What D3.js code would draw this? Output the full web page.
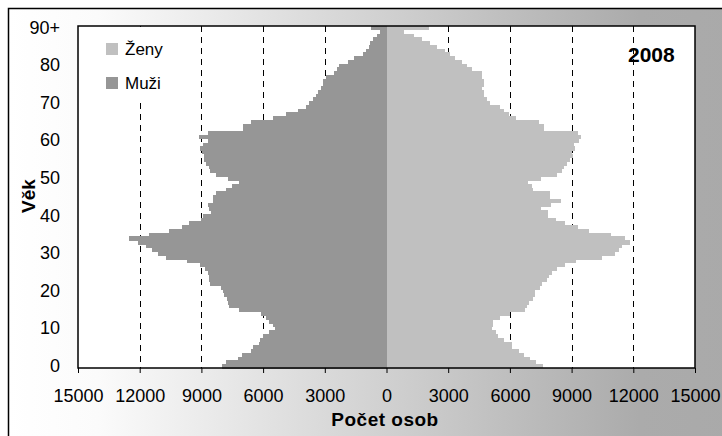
<!DOCTYPE html>
<meta charset="utf-8">
<style>
  body { margin: 0; }
  text { font-family: "Liberation Sans", Arial, sans-serif; }
</style>

<!-- Load d3.js -->
<script src="https://d3js.org/d3.v7.min.js"></script>

<!-- Create a div where the graph will take place -->
<div id="my_dataviz"></div>

<script>

// ages 0 .. 90+ (one bar per year)
var ages = d3.range(0, 91);
var ageTicks = [0, 10, 20, 30, 40, 50, 60, 70, 80, 90];
var countTicks = [-15000, -12000, -9000, -6000, -3000, 0, 3000, 6000, 9000, 12000, 15000];

// men (Muži), by age 0 .. 90+
var muzi = [
  8020, 7790, 7200, 7050, 6580, 6500, 6220, 6150, 6020, 5700,
  5400, 5540, 5700, 5860, 6100, 7160, 7650, 7730, 7750, 7900,
  7970, 8050, 8600, 8620, 8650, 8700, 8815, 9060, 9680, 10700,
  11100, 11420, 11700, 12100, 12520, 11570, 10560, 9920, 9590, 9030,
  8940, 8540, 8620, 8700, 8460, 8460, 8300, 7800, 7500, 7190,
  7700, 8300, 8600, 8640, 8800, 8850, 8850, 8950, 9050, 8900,
  8700, 9100, 8700, 7000, 7000, 6590, 5540, 4890, 4320, 3910,
  3780, 3590, 3430, 3340, 3180, 3100, 3100, 2940, 2530, 2400,
  2290, 1880, 1560, 1150, 990, 830, 780, 640, 480, 330,
  750
];

// women (Ženy), by age 0 .. 90+
var zeny = [
  7610, 7290, 7000, 6670, 6430, 6100, 6100, 5700, 5440, 5300,
  5150, 5200, 5200, 5540, 6020, 6750, 6840, 6920, 7130, 7200,
  7240, 7480, 7570, 7800, 7890, 8050, 8300, 8700, 9190, 10490,
  11090, 11300, 11460, 11820, 11620, 10940, 9840, 9300, 8670, 8260,
  7850, 7850, 7500, 8020, 8500, 7970, 7970, 7100, 7080, 6870,
  7500, 8300, 8540, 8620, 8800, 8900, 9070, 9030, 9150, 9100,
  9350, 9450, 9300, 7650, 7650, 7400, 6300, 5950, 5700, 5540,
  5050, 4890, 4720, 4720, 4650, 4750, 4720, 4640, 4640, 4160,
  3910, 3670, 3350, 3100, 2860, 2450, 2130, 1720, 1320, 830,
  2090
];

var colMuzi = "#969696",
    colZeny = "#c0c0c0";

// plot area
var W = 722, H = 436;
var plot = {left: 78, top: 26, right: 695, bottom: 368};

var svg = d3.select("#my_dataviz")
  .append("svg")
    .attr("width", W)
    .attr("height", H);

// background gradient of the chart frame
var grad = svg.append("defs").append("linearGradient")
    .attr("id", "bg")
    .attr("x1", "0%").attr("x2", "100%")
    .attr("y1", "0%").attr("y2", "0%");
grad.append("stop").attr("offset", "0%").attr("stop-color", "#ffffff");
grad.append("stop").attr("offset", "12%").attr("stop-color", "#fbfbfb");
grad.append("stop").attr("offset", "85%").attr("stop-color", "#ababab");
grad.append("stop").attr("offset", "100%").attr("stop-color", "#a9a9a9");

svg.append("rect")
    .attr("x", 0).attr("y", 0)
    .attr("width", W).attr("height", H)
    .style("fill", "#fff");

svg.append("rect")
    .attr("x", 8.5).attr("y", 8.5)
    .attr("width", W + 20).attr("height", H + 20)
    .style("fill", "url(#bg)")
    .style("stroke", "#000")
    .style("stroke-width", 1.5);

// scales
var x = d3.scaleLinear()
    .domain([-15000, 15000])
    .range([plot.left, plot.right]);

var y = d3.scaleBand()
    .domain(ages)
    .range([plot.bottom, plot.top])
    .padding(0);

// white plot area
svg.append("rect")
    .attr("x", plot.left).attr("y", plot.top)
    .attr("width", plot.right - plot.left)
    .attr("height", plot.bottom - plot.top)
    .style("fill", "#fff");

// dashed grid lines
svg.append("g")
  .selectAll("line")
  .data(countTicks.filter(function(d){ return d != 0 && Math.abs(d) != 15000; }))
  .enter()
  .append("line")
    .attr("x1", function(d){ return Math.round(x(d)) + 0.5; })
    .attr("x2", function(d){ return Math.round(x(d)) + 0.5; })
    .attr("y1", plot.top)
    .attr("y2", plot.bottom)
    .style("stroke", "#000")
    .style("stroke-width", 1)
    .style("stroke-dasharray", "6,5");

// bars - men on the left
svg.append("g")
    .attr("shape-rendering", "crispEdges")
  .selectAll("rect")
  .data(ages)
  .enter()
  .append("rect")
    .attr("x", function(d){ return x(-muzi[d]); })
    .attr("y", function(d){ return y(d); })
    .attr("width", function(d){ return x(0) - x(-muzi[d]); })
    .attr("height", y.bandwidth() + 0.6)
    .style("fill", colMuzi);

// bars - women on the right
svg.append("g")
    .attr("shape-rendering", "crispEdges")
  .selectAll("rect")
  .data(ages)
  .enter()
  .append("rect")
    .attr("x", x(0))
    .attr("y", function(d){ return y(d); })
    .attr("width", function(d){ return x(zeny[d]) - x(0); })
    .attr("height", y.bandwidth() + 0.6)
    .style("fill", colZeny);

// legend (white box hides the grid line)
svg.append("rect")
    .attr("x", 96).attr("y", 27)
    .attr("width", 76).attr("height", 76)
    .style("fill", "#fff");

var legend = [{name: "Ženy", col: colZeny}, {name: "Muži", col: colMuzi}];
var lg = svg.append("g")
  .selectAll("g")
  .data(legend)
  .enter()
  .append("g")
    .attr("transform", function(d, i){ return "translate(106," + (43 + i * 34) + ")"; });
lg.append("rect")
    .attr("width", 12).attr("height", 12)
    .style("fill", function(d){ return d.col; });
lg.append("text")
    .attr("x", 19).attr("y", 12)
    .style("font-size", "17px")
    .text(function(d){ return d.name; });

// year label
svg.append("text")
    .attr("x", 628).attr("y", 62)
    .style("font-size", "21px")
    .style("font-weight", "bold")
    .text("2008");

// plot border
svg.append("rect")
    .attr("x", plot.left).attr("y", plot.top)
    .attr("width", plot.right - plot.left)
    .attr("height", plot.bottom - plot.top)
    .style("fill", "none")
    .style("stroke", "#000")
    .style("stroke-width", 1.5);

// X axis
var xAxis = svg.append("g")
    .attr("transform", "translate(0," + plot.bottom + ")")
    .call(d3.axisBottom(x)
      .tickValues(countTicks)
      .tickFormat(function(d){ return Math.abs(d); })
      .tickSize(5)
      .tickPadding(16));
xAxis.select(".domain").remove();
xAxis.selectAll("line").style("stroke", "#000");
xAxis.selectAll("text")
    .style("font-family", "'Liberation Sans', Arial, sans-serif")
    .style("font-size", "18px")
    .style("fill", "#000");

// Y axis
var yAxis = svg.append("g")
    .attr("transform", "translate(" + plot.left + ",0)")
    .call(d3.axisLeft(y)
      .tickValues(ageTicks)
      .tickFormat(function(d){ return d == 90 ? "90+" : d; })
      .tickSize(0)
      .tickPadding(18));
yAxis.select(".domain").remove();
yAxis.selectAll("text")
    .style("font-family", "'Liberation Sans', Arial, sans-serif")
    .style("font-size", "18px")
    .style("fill", "#000");

// axis titles
svg.append("text")
    .attr("x", 385).attr("y", 426)
    .attr("text-anchor", "middle")
    .style("font-size", "19px")
    .style("font-weight", "bold")
    .style("letter-spacing", "0.5px")
    .text("Počet osob");

svg.append("text")
    .attr("transform", "translate(35,196) rotate(-90)")
    .attr("text-anchor", "middle")
    .style("font-size", "19px")
    .style("font-weight", "bold")
    .text("Věk");

</script>
